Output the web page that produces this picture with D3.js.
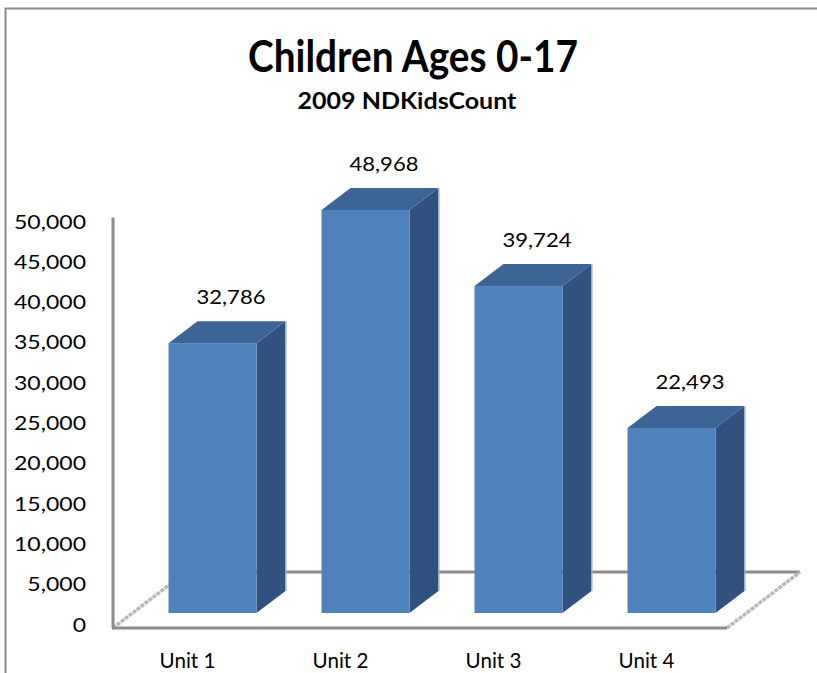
<!DOCTYPE html>
<html>
<head>
<meta charset="utf-8">
<script src="https://cdn.jsdelivr.net/npm/d3@7"></script>
<style>
  html, body { margin: 0; padding: 0; background: #ffffff; }
  svg { display: block; }
  text { font-family: Lato, "Open Sans", sans-serif; fill: #000; }
</style>
</head>
<body>
<svg id="chart" width="817" height="673"></svg>
<script>
// Children ages 0-17 by unit (2009 ND KidsCount)
const categories = ["Unit 1", "Unit 2", "Unit 3", "Unit 4"];
const values = [32786, 48968, 39724, 22493];
const tickValues = [0, 5000, 10000, 15000, 20000, 25000, 30000, 35000, 40000, 45000, 50000];
const titleText = "Children Ages 0-17";
const subtitleText = "2009 NDKidsCount";

const svg = d3.select("#chart");
const fmt = d3.format(",");

// 3D frame geometry
const depthX = 29, depthY = -22;      // bar depth offset
const floorFrontY = 628, floorBackY = 572;
const floorLeft = 113, floorRight = 727, floorShift = 73;

// Scales: bars sit on the mid-depth plane, tick labels on the wall plane
const x = d3.scaleBand().domain(categories).range([136, 748])
  .paddingInner(0.425).paddingOuter(0.2125);
const yBar = d3.scaleLinear().domain([0, 50000]).range([613, 201.5]);
const yTick = d3.scaleLinear().domain([0, 50000]).range([624.6, 221.5]);

// Outer chart border (top and left edges visible)
svg.append("path")
  .attr("d", "M5.5,673 L5.5,8.5 L817,8.5")
  .attr("fill", "none").attr("stroke", "#8a8a8a").attr("stroke-width", 2);

// Horizontal stretch helper: place text at (px,py) and scale in x
function place(sel, px, py, sx) {
  sel.attr("x", 0).attr("y", 0)
     .attr("transform", (d, i) => `translate(${px(d, i)},${py(d, i)}) scale(${sx},1)`);
}
function measure(str, size, weight) {
  const t = svg.append("text").attr("font-size", size).attr("font-weight", weight).text(str);
  const w = t.node().getComputedTextLength();
  t.remove();
  return w;
}

// Title and subtitle
const titleSx = 330 / measure(titleText, 43, "bold");
svg.append("text").datum(0)
  .attr("text-anchor", "middle").attr("font-size", 43).attr("font-weight", "bold")
  .text(titleText)
  .call(place, () => 413, () => 72, titleSx);

const subSx = 219 / measure(subtitleText, 22.5, "bold");
svg.append("text").datum(0)
  .attr("text-anchor", "middle").attr("font-size", 22.5).attr("font-weight", "bold")
  .text(subtitleText)
  .call(place, () => 407, () => 109, subSx);

// Floor: back edge, then side diagonals, front edge
const floor = svg.append("g");
floor.append("line")
  .attr("x1", floorLeft + floorShift).attr("x2", floorRight + floorShift)
  .attr("y1", floorBackY).attr("y2", floorBackY)
  .attr("stroke", "#8c8c8c").attr("stroke-width", 3);
[floorLeft, floorRight].forEach(fx => {
  floor.append("line")
    .attr("x1", fx).attr("y1", floorFrontY)
    .attr("x2", fx + floorShift).attr("y2", floorBackY)
    .attr("stroke", "#b8b8b8").attr("stroke-width", 3.5)
    .attr("stroke-dasharray", "4,1");
});
floor.append("line")
  .attr("x1", floorLeft - 1).attr("x2", floorRight)
  .attr("y1", floorFrontY).attr("y2", floorFrontY)
  .attr("stroke", "#8c8c8c").attr("stroke-width", 3);

// Value axis line
svg.append("line")
  .attr("x1", floorLeft).attr("x2", floorLeft)
  .attr("y1", yTick(50000) - 4).attr("y2", floorFrontY)
  .attr("stroke", "#8c8c8c").attr("stroke-width", 3);

// Value axis tick labels
const tickSx = 72 / measure("50,000", 19.5, "normal");
svg.append("g").selectAll("text").data(tickValues).join("text")
  .attr("text-anchor", "end").attr("font-size", 19.5)
  .text(d => fmt(d))
  .call(place, () => 86, d => yTick(d) + 7, tickSx);

// Bars: front, top and side faces
const bars = svg.append("g").selectAll("g").data(values).join("g");
const x0 = (d, i) => x(categories[i]);
const x1 = (d, i) => x(categories[i]) + x.bandwidth();
const y0 = yBar(0);

bars.append("path") // side face
  .attr("d", (d, i) => `M${x1(d, i)},${yBar(d)} L${x1(d, i) + depthX},${yBar(d) + depthY} ` +
    `L${x1(d, i) + depthX},${y0 + depthY} L${x1(d, i)},${y0} Z`)
  .attr("fill", "#31527e");
bars.append("path") // top face
  .attr("d", (d, i) => `M${x0(d, i)},${yBar(d)} L${x0(d, i) + depthX},${yBar(d) + depthY} ` +
    `L${x1(d, i) + depthX},${yBar(d) + depthY} L${x1(d, i)},${yBar(d)} Z`)
  .attr("fill", "#3c6596");
bars.append("line") // light rim along the back edge of the side face
  .attr("x1", (d, i) => x1(d, i) + depthX + 0.5).attr("x2", (d, i) => x1(d, i) + depthX + 0.5)
  .attr("y1", d => yBar(d) + depthY).attr("y2", y0 + depthY)
  .attr("stroke", "#9fb6d6").attr("stroke-width", 1.2);
bars.append("rect") // front face
  .attr("x", (d, i) => x0(d, i)).attr("y", d => yBar(d))
  .attr("width", x.bandwidth()).attr("height", d => y0 - yBar(d))
  .attr("fill", "#4f81bd");

// Data labels
const valSx = 69 / measure("48,968", 20, "normal");
svg.append("g").selectAll("text").data(values).join("text")
  .attr("text-anchor", "middle").attr("font-size", 20)
  .text(d => fmt(d))
  .call(place, (d, i) => x0(d, i) + (x.bandwidth() + depthX) / 2 + 4,
               d => yBar(d) + depthY - 17, valSx);

// Category labels
const catSx = 56 / measure("Unit 1", 21, "normal");
svg.append("g").selectAll("text").data(categories).join("text")
  .attr("text-anchor", "middle").attr("font-size", 21)
  .text(d => d)
  .call(place, d => x(d) + x.bandwidth() / 2 - 25, () => 668, catSx);
</script>
</body>
</html>
